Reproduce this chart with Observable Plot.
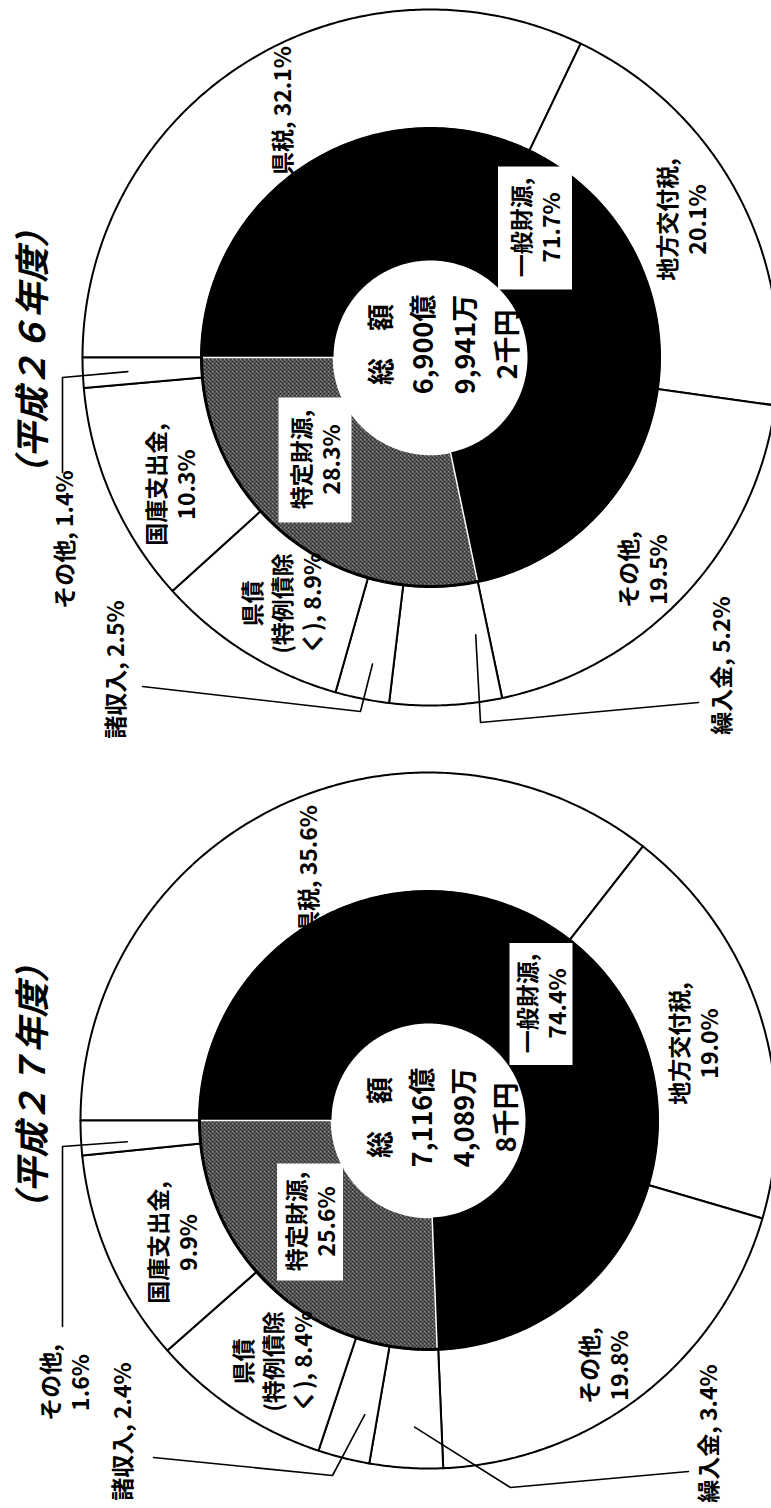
<!DOCTYPE html>
<html><head><meta charset="utf-8">
<script src="https://cdn.jsdelivr.net/npm/d3@7"></script>
<script src="https://cdn.jsdelivr.net/npm/@observablehq/plot@0.6"></script>
<style>
html,body{margin:0;padding:0;background:#fff;overflow:hidden;width:771px;height:1508px;}
#page{position:absolute;left:0;top:0;width:1508px;height:771px;transform-origin:0 0;transform:translate(0,1508px) rotate(-90deg);background:#fff;}
</style></head><body><div id="page"></div>
<script>
// ---------- data ----------
const titles = ["（平成２６年度）", "（平成２７年度）"];
const innerCategories = ["一般財源", "特定財源"];
const innerValuesH26 = [71.7, 28.3];
const innerValuesH27 = [74.4, 25.6];
const outerCategories = ["県税", "地方交付税", "その他", "繰入金", "諸収入", "県債(特例債除く)", "国庫支出金", "その他"];
const outerValuesH26 = [32.1, 20.1, 19.5, 5.2, 2.5, 8.9, 10.3, 1.4];
const outerValuesH27 = [35.6, 19.0, 19.8, 3.4, 2.4, 8.4, 9.9, 1.6];
const totalH26 = ["総　額", "6,900億", "9,941万", "2千円"];
const totalH27 = ["総　額", "7,116億", "4,089万", "8千円"];

// ---------- layout (positions / styles only) ----------
const W = 1508, H = 771;
const R = {hole: 97, inner: 229, outer: 348};
const layout = [
  { cx: 1150, cy: 430, titleDx: 5, titleY: 33, totalD: [13, 10],
    boxes: [{d: [130, 105], w: 123, h: 74}, {d: [-102, -115], w: 125, h: 73}],
    labels: [[247,-149],[138,251],[-212,212],[-308,290],[-312,-316],[-246,-149],[-127,-260],[-182,-367]],
    templates: ["{n}, {v}", "{n},\n{v}", "{n},\n{v}", "{n}, {v}", "{n}, {v}", "県債\n(特例債除\nく), {v}", "{n},\n{v}", "{n}, {v}"],
    leaders: {3: {frac: 0.14, r: 281, pts: [[-345,268],[-365,50]]},
              4: {frac: 0.43, r: 312, pts: [[-329,-288],[-354,-70]]},
              7: {frac: 0.47, r: 303, pts: [[-115,-368],[-20,-368]]}} },
  { cx: 387, cy: 428, titleDx: 33, titleY: 33, totalD: [3, 11],
    boxes: [{d: [117, 113], w: 122, h: 63}, {d: [-101, -118], w: 117, h: 66}],
    labels: [[251,-121],[77,265],[-245,175],[-313,279],[-311,-307],[-241,-156],[-122,-256],[-262,-364]],
    templates: ["{n}, {v}", "{n},\n{v}", "{n},\n{v}", "{n}, {v}", "{n}, {v}", "県債\n(特例債除\nく), {v}", "{n},\n{v}", "{n},\n{v}"],
    leaders: {3: {frac: 0.41, r: 307, pts: [[-351,260],[-367,82]]},
              4: {frac: 0.28, r: 301, pts: [[-337,-275],[-355,-96]]},
              7: {frac: 0.30, r: 302, pts: [[-206,-366],[-26,-366]]}} }
];
const sets = [
  {inner: innerValuesH26, outer: outerValuesH26, total: totalH26, title: titles[0]},
  {inner: innerValuesH27, outer: outerValuesH27, total: totalH27, title: titles[1]}
];

// ---------- geometry from data ----------
const pie = d3.pie().sort(null).value(d => d);
function ring(cx, cy, r0, r1, a0, a1, id, extra) {
  const n = Math.max(2, Math.ceil((a1 - a0) / (Math.PI / 360)) + 1);
  const pts = [];
  for (let i = 0; i < n; i++) { const a = a0 + (a1 - a0) * i / (n - 1); pts.push({x: cx + r1 * Math.sin(a), y: cy - r1 * Math.cos(a)}); }
  for (let i = n - 1; i >= 0; i--) { const a = a0 + (a1 - a0) * i / (n - 1); pts.push({x: cx + r0 * Math.sin(a), y: cy - r0 * Math.cos(a)}); }
  pts.push({...pts[0]});
  return pts.map(p => ({...p, id, ...extra}));
}
const fmt = v => v.toFixed(1) + "%";
let innerRows = [], outerRows = [], circleRows = [], boxRows = [], boxTexts = [], labelRows = [], leaderRows = [], totalRows = [], titleRows = [];
sets.forEach((s, ci) => {
  const L = layout[ci];
  pie(s.inner).forEach((a, i) => innerRows.push(...ring(L.cx, L.cy, R.hole, R.inner, a.startAngle, a.endAngle, `i${ci}-${i}`, {kind: i})));
  const outerArcs = pie(s.outer);
  outerArcs.forEach((a, i) => outerRows.push(...ring(L.cx, L.cy, R.inner, R.outer, a.startAngle, a.endAngle, `o${ci}-${i}`, {})));
  for (let k = 0; k <= 360; k++) { const a = k * Math.PI / 180; circleRows.push({x: L.cx + R.inner * Math.sin(a), y: L.cy - R.inner * Math.cos(a), id: `c${ci}`}); }
  s.inner.forEach((v, i) => {
    const b = L.boxes[i];
    const x = L.cx + b.d[0], y = L.cy + b.d[1];
    boxRows.push({x1: x - b.w / 2, x2: x + b.w / 2, y1: y - b.h / 2, y2: y + b.h / 2});
    boxTexts.push({x, y, text: `${innerCategories[i]},\n${fmt(v)}`});
  });
  s.outer.forEach((v, i) => {
    const p = L.labels[i];
    const text = L.templates[i].replace("{n}", outerCategories[i]).replace("{v}", fmt(v));
    labelRows.push({x: L.cx + p[0], y: L.cy + p[1], text});
    const ld = L.leaders[i];
    if (ld) {
      const a = outerArcs[i].startAngle + ld.frac * (outerArcs[i].endAngle - outerArcs[i].startAngle);
      const id = `l${ci}-${i}`;
      ld.pts.forEach(q => leaderRows.push({x: L.cx + q[0], y: L.cy + q[1], id}));
      leaderRows.push({x: L.cx + ld.r * Math.sin(a), y: L.cy - ld.r * Math.cos(a), id});
    }
  });
  totalRows.push({x: L.cx + L.totalD[0], y: L.cy + L.totalD[1], text: s.total.join("\n")});
  titleRows.push({x: L.cx + L.titleDx, y: L.titleY, text: s.title});
});

const svg = Plot.plot({
  width: W, height: H, margin: 0,
  x: {domain: [0, W], range: [0, W], axis: null},
  y: {domain: [0, H], range: [0, H], axis: null},
  style: {fontFamily: "'Noto Sans CJK JP', 'Noto Sans', sans-serif", background: "white", color: "black"},
  marks: [
    Plot.line(innerRows.filter(d => d.kind === 0), {x: "x", y: "y", z: "id", fill: "black", stroke: "none"}),
    Plot.line(innerRows.filter(d => d.kind === 1), {x: "x", y: "y", z: "id", fill: "url(#stipple)", stroke: "white", strokeWidth: 1.5}),
    Plot.line(outerRows, {x: "x", y: "y", z: "id", fill: "white", stroke: "black", strokeWidth: 2}),
    Plot.line(circleRows, {x: "x", y: "y", z: "id", stroke: "black", strokeWidth: 3}),
    Plot.rect(boxRows, {x1: "x1", x2: "x2", y1: "y1", y2: "y2", fill: "white"}),
    Plot.text(boxTexts, {x: "x", y: "y", text: "text", fontSize: 23, fontWeight: "bold", lineHeight: 1.3, fill: "black"}),
    Plot.text(labelRows, {x: "x", y: "y", text: "text", fontSize: 23, fontWeight: "bold", lineHeight: 1.3, fill: "black"}),
    Plot.text(totalRows, {x: "x", y: "y", text: "text", fontSize: 27, fontWeight: "bold", lineHeight: 1.55, fill: "black"}),
    Plot.text(titleRows, {x: "x", y: "y", text: "text", fontSize: 35, fontWeight: "bold", fontStyle: "italic", fill: "black"}),
    Plot.line(leaderRows, {x: "x", y: "y", z: "id", stroke: "black", strokeWidth: 1.6})
  ]
});
const ns = "http://www.w3.org/2000/svg";
const defs = document.createElementNS(ns, "defs");
defs.innerHTML = `<pattern id="stipple" width="4" height="4" patternUnits="userSpaceOnUse">
<rect width="4" height="4" fill="#262626"/>
<rect x="0" y="0" width="1" height="1" fill="#d0d0d0"/>
<rect x="2" y="1" width="1" height="1" fill="#c0c0c0"/>
<rect x="1" y="2" width="1" height="1" fill="#d8d8d8"/>
<rect x="3" y="3" width="1" height="1" fill="#b8b8b8"/>
<rect x="3" y="0" width="1" height="1" fill="#808080"/>
</pattern>`;
svg.insertBefore(defs, svg.firstChild);
document.getElementById("page").appendChild(svg);
</script></body></html>
